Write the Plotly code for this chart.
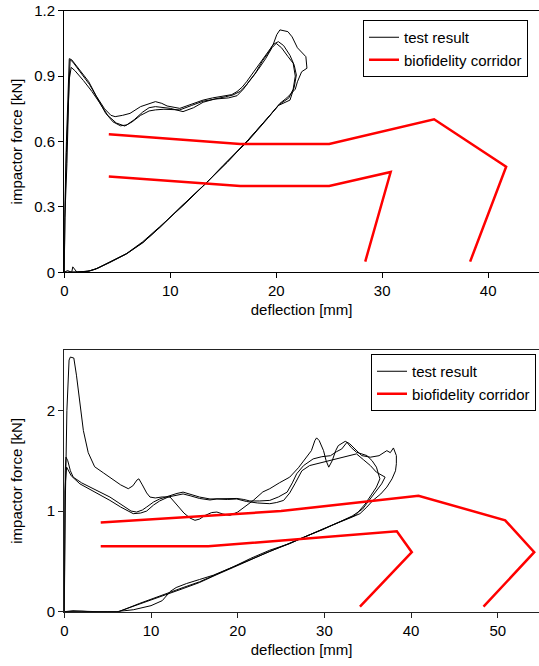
import plotly.graph_objects as go

# ---------------- top panel data ----------------
top_t1_x = [0, 0.05, 0.2, 0.35, 0.47, 0.7, 1.5, 2.3, 3.0, 3.8, 4.4, 4.8, 5.5, 6.2, 7.2, 8.0, 8.6, 9.2, 9.7, 10.9, 12.0, 13.1, 14.0, 15.0, 15.8, 16.3, 16.8, 17.2, 17.9, 18.5, 19.1, 19.7, 20.05, 20.35, 21.1, 21.5, 22.0, 22.4, 22.8, 22.9, 22.4, 22.0, 21.8, 21.0, 20.35, 19.4, 17.5, 15.4, 13.4, 11.2, 9.0, 7.4, 5.9, 4.3, 3.2, 2.4, 1.5, 1.2, 0.8, 0.7, 0.3, 0]
top_t1_y = [0, 0.3, 0.6, 0.88, 0.98, 0.975, 0.925, 0.875, 0.81, 0.75, 0.72, 0.714, 0.72, 0.729, 0.76, 0.775, 0.783, 0.775, 0.763, 0.752, 0.77, 0.79, 0.80, 0.809, 0.815, 0.829, 0.85, 0.874, 0.92, 0.959, 1.0, 1.043, 1.09, 1.112, 1.104, 1.08, 1.03, 1.01, 0.989, 0.936, 0.92, 0.874, 0.84, 0.80, 0.775, 0.72, 0.615, 0.505, 0.408, 0.305, 0.209, 0.14, 0.087, 0.049, 0.02, 0.007, 0.002, 0.0, 0.025, 0.0, 0.008, 0]

top_t2_x = [0, 0.05, 0.2, 0.4, 0.55, 0.8, 1.6, 2.4, 3.1, 3.9, 4.6, 5.3, 5.9, 6.6, 7.4, 8.0, 8.6, 9.3, 10.0, 11.2, 12.2, 13.1, 14.2, 15.2, 15.9, 16.6, 17.2, 18.0, 18.7, 19.3, 19.7, 20.2, 20.7, 21.3, 21.7, 21.9, 21.7, 21.3, 20.2, 19.0, 17.3, 15.0, 13.3, 11.0, 9.0, 7.5, 5.9, 4.3, 3.0, 2.3, 1.0, 0]
top_t2_y = [0, 0.25, 0.55, 0.85, 0.975, 0.965, 0.915, 0.86, 0.80, 0.73, 0.69, 0.672, 0.676, 0.70, 0.735, 0.755, 0.76, 0.756, 0.752, 0.737, 0.755, 0.78, 0.795, 0.805, 0.813, 0.83, 0.86, 0.91, 0.97, 1.01, 1.045, 1.058, 1.04, 0.995, 0.95, 0.905, 0.85, 0.79, 0.765, 0.695, 0.60, 0.49, 0.405, 0.30, 0.205, 0.14, 0.085, 0.045, 0.015, 0.005, 0.0, 0]

top_t3_x = [0, 0.05, 0.25, 0.45, 0.65, 1.0, 1.8, 2.6, 3.3, 4.1, 4.9, 5.7, 6.4, 7.2, 8.0, 8.6, 9.4, 10.2, 10.9, 12.0, 13.1, 14.3, 15.5, 16.3, 16.9, 17.5, 18.3, 19.0, 19.6, 20.0, 20.5, 21.1, 21.6, 21.8, 21.6, 21.2, 20.3, 19.4, 17.4, 15.1, 13.4, 11.1, 9.1, 7.4, 5.8, 4.3, 2.9, 2.2, 1.0, 0]
top_t3_y = [0, 0.25, 0.5, 0.88, 0.94, 0.925, 0.88, 0.83, 0.78, 0.72, 0.685, 0.671, 0.69, 0.72, 0.74, 0.745, 0.748, 0.746, 0.745, 0.765, 0.785, 0.795, 0.80, 0.81, 0.84, 0.88, 0.93, 0.98, 1.03, 1.05, 1.03, 0.99, 0.959, 0.90, 0.84, 0.80, 0.77, 0.72, 0.61, 0.495, 0.41, 0.305, 0.21, 0.135, 0.083, 0.047, 0.014, 0.004, 0.0, 0]

top_cor_up_x = [4.2, 16.6, 25.0, 34.9, 41.7, 38.3]
top_cor_up_y = [0.633, 0.589, 0.589, 0.702, 0.484, 0.049]
top_cor_lo_x = [4.2, 16.6, 25.0, 30.8, 28.4]
top_cor_lo_y = [0.440, 0.396, 0.396, 0.460, 0.049]

top_xticks = [0, 10, 20, 30, 40]
top_yticks = [0, 0.3, 0.6, 0.9, 1.2]
top_yticklabels = ["0", "0.3", "0.6", "0.9", "1.2"]

# ---------------- bottom panel data ----------------
bot_t1_x = [0, 0.1, 0.3, 0.55, 0.7, 1.1, 1.4, 1.8, 2.2, 2.76, 3.5, 4.5, 5.5, 6.5, 7.38, 7.9, 8.4, 8.6, 9.0, 9.5, 9.88, 10.5, 11.3, 12.2, 13.0, 13.8, 14.5, 15.07, 15.6, 16.2, 17.0, 17.6, 18.3, 19.1, 20.0, 20.9, 21.8, 22.9, 23.7, 24.8, 26.0, 27.0, 27.6, 28.5, 28.9, 29.1, 29.4, 29.9, 30.2, 30.5, 30.9, 31.3, 31.6, 32.4, 32.9, 33.3, 34.3, 35.3, 36.3, 37.2, 37.6, 37.96, 38.3, 38.3, 38.2, 37.8, 37.2, 36.5, 35.6, 34.9, 34.1, 33.2, 32.2, 30.9, 29.5, 27.8, 26.0, 23.7, 21.5, 19.5, 17.5, 15.6, 13.7, 11.8, 10.2, 8.7, 7.6, 6.8, 6.3, 5.0, 3.0, 1.0, 0]
bot_t1_y = [0, 1.0, 2.0, 2.5, 2.53, 2.52, 2.35, 2.06, 1.8, 1.58, 1.44, 1.38, 1.32, 1.26, 1.222, 1.25, 1.31, 1.32, 1.26, 1.18, 1.139, 1.13, 1.14, 1.139, 1.06, 0.98, 0.93, 0.908, 0.92, 0.955, 0.985, 0.99, 0.97, 0.957, 0.99, 1.05, 1.106, 1.19, 1.222, 1.28, 1.337, 1.43, 1.50, 1.60, 1.70, 1.727, 1.70, 1.60, 1.50, 1.436, 1.50, 1.60, 1.65, 1.693, 1.67, 1.634, 1.551, 1.535, 1.55, 1.60, 1.58, 1.627, 1.551, 1.47, 1.40, 1.32, 1.238, 1.17, 1.106, 1.04, 0.974, 0.94, 0.908, 0.86, 0.809, 0.745, 0.677, 0.611, 0.53, 0.446, 0.37, 0.297, 0.24, 0.182, 0.13, 0.083, 0.045, 0.017, 0.0, 0.0, 0.0, 0.01, 0]

bot_t2_x = [0, 0.05, 0.1, 0.2, 0.4, 0.7, 1.03, 2.0, 2.95, 4.0, 5.26, 6.3, 7.19, 7.7, 8.34, 9.0, 9.5, 10.3, 11.0, 12.2, 13.0, 13.7, 14.5, 15.6, 16.8, 18.0, 19.0, 19.9, 20.7, 21.4, 22.5, 23.7, 24.7, 25.7, 26.3, 26.8, 27.6, 28.7, 29.7, 30.7, 31.4, 32.0, 32.6, 33.1, 33.7, 34.9, 35.5, 36.0, 36.4, 36.0, 35.4, 34.7, 33.6, 32.3, 30.7, 29.0, 27.5, 25.8, 23.7, 21.5, 19.5, 17.5, 15.6, 13.7, 11.8, 10.2, 8.7, 7.6, 6.8, 6.2, 4.0, 2.0, 0]
bot_t2_y = [0, 1.0, 1.4, 1.535, 1.5, 1.40, 1.337, 1.28, 1.238, 1.19, 1.139, 1.08, 1.024, 1.0, 0.99, 1.01, 1.04, 1.09, 1.12, 1.155, 1.175, 1.188, 1.17, 1.139, 1.12, 1.12, 1.12, 1.125, 1.115, 1.10, 1.10, 1.106, 1.14, 1.188, 1.28, 1.37, 1.452, 1.518, 1.54, 1.55, 1.59, 1.617, 1.683, 1.63, 1.584, 1.551, 1.50, 1.436, 1.32, 1.238, 1.16, 1.07, 0.96, 0.91, 0.85, 0.79, 0.735, 0.67, 0.60, 0.52, 0.44, 0.365, 0.29, 0.23, 0.17, 0.12, 0.075, 0.04, 0.012, 0.0, 0.0, 0.005, 0]

bot_t3_x = [0, 0.05, 0.27, 0.8, 1.8, 3.5, 5.26, 6.5, 7.95, 8.8, 9.5, 10.3, 11.0, 12.0, 13.0, 13.7, 14.6, 15.6, 16.8, 17.6, 18.8, 19.9, 21.0, 22.3, 23.7, 24.5, 25.3, 26.0, 26.6, 27.4, 28.3, 29.9, 31.4, 32.6, 33.7, 34.5, 35.3, 36.0, 36.8, 37.0, 36.6, 36.0, 35.3, 34.4, 33.2, 31.5, 29.8, 27.9, 26.0, 23.7, 21.5, 19.9, 17.2, 15.6, 14.1, 12.9, 12.2, 11.3, 10.0, 8.0, 6.0, 4.0, 0]
bot_t3_y = [0, 1.2, 1.436, 1.35, 1.27, 1.19, 1.106, 1.04, 0.974, 0.98, 1.0, 1.06, 1.10, 1.14, 1.16, 1.17, 1.15, 1.125, 1.11, 1.12, 1.115, 1.12, 1.095, 1.08, 1.073, 1.085, 1.106, 1.18, 1.271, 1.40, 1.452, 1.485, 1.518, 1.545, 1.568, 1.51, 1.452, 1.386, 1.353, 1.337, 1.27, 1.205, 1.12, 1.02, 0.95, 0.88, 0.815, 0.75, 0.68, 0.60, 0.52, 0.462, 0.363, 0.32, 0.28, 0.24, 0.2, 0.11, 0.06, 0.02, 0.0, 0.0, 0]

bot_cor_up_x = [4.2, 25.0, 40.85, 50.85, 54.2, 48.35]
bot_cor_up_y = [0.885, 1.0, 1.152, 0.908, 0.591, 0.05]
bot_cor_lo_x = [4.2, 16.6, 38.35, 40.08, 34.1]
bot_cor_lo_y = [0.65, 0.65, 0.799, 0.591, 0.05]

bot_xticks = [0, 10, 20, 30, 40, 50]
bot_yticks = [0, 1, 2]
bot_yticklabels = ["0", "1", "2"]

x_title = "deflection [mm]"
y_title = "impactor force [kN]"
name_test = "test result"
name_corr = "biofidelity corridor"

FONT = "Arial, Liberation Sans, sans-serif"
FS = 15
W, H = 539, 666

fig = go.Figure()

def add_panel(tests, cors, xa, ya, legend):
    for i, (tx, ty) in enumerate(tests):
        fig.add_trace(go.Scatter(x=tx, y=ty, mode="lines", xaxis=xa, yaxis=ya,
                                 line=dict(color="black", width=1),
                                 name=name_test, legend=legend,
                                 legendgroup=legend + "t", showlegend=(i == 0)))
    for i, (cx, cy) in enumerate(cors):
        fig.add_trace(go.Scatter(x=cx, y=cy, mode="lines", xaxis=xa, yaxis=ya,
                                 line=dict(color="#ff0000", width=2.5),
                                 name=name_corr, legend=legend,
                                 legendgroup=legend + "c", showlegend=(i == 0)))

add_panel([(top_t1_x, top_t1_y), (top_t2_x, top_t2_y), (top_t3_x, top_t3_y)],
          [(top_cor_up_x, top_cor_up_y), (top_cor_lo_x, top_cor_lo_y)],
          "x", "y", "legend")
add_panel([(bot_t1_x, bot_t1_y), (bot_t2_x, bot_t2_y), (bot_t3_x, bot_t3_y)],
          [(bot_cor_up_x, bot_cor_up_y), (bot_cor_lo_x, bot_cor_lo_y)],
          "x2", "y2", "legend2")

xdom = [64.3 / W, 1.0]
top_ydom = [1 - 272.3 / H, 1 - 10.7 / H]
bot_ydom = [1 - 611.7 / H, 1 - 350 / H]

def axis_common(col="black"):
    return dict(showgrid=False, zeroline=False, ticks="outside", ticklen=5,
                tickwidth=1, tickcolor=col, showline=True, linecolor=col,
                linewidth=1.3, automargin=False,
                tickfont=dict(family=FONT, size=FS, color="black"))

legend_common = dict(bgcolor="white", bordercolor="black", borderwidth=1,
                     font=dict(family=FONT, size=FS, color="black"),
                     itemwidth=30, xanchor="right", yanchor="top",
                     tracegroupgap=0)

tfont = dict(family=FONT, size=FS, color="black")

fig.update_layout(
    width=W, height=H,
    margin=dict(l=0, r=0, t=0, b=0),
    paper_bgcolor="white", plot_bgcolor="white",
    font=dict(family=FONT, size=FS, color="black"),
    xaxis=dict(domain=xdom, anchor="y", range=[0, 44.8], tickvals=top_xticks,
               mirror=True, title=dict(text=x_title, standoff=6, font=tfont),
               **axis_common()),
    yaxis=dict(domain=top_ydom, anchor="x", range=[0, 1.2], tickvals=top_yticks,
               ticktext=top_yticklabels,
               title=dict(text=y_title, standoff=8, font=tfont),
               **axis_common()),
    xaxis2=dict(domain=xdom, anchor="y2", range=[0, 54.75], tickvals=bot_xticks,
                mirror=True, title=dict(text=x_title, standoff=6, font=tfont),
                **axis_common("#222222")),
    yaxis2=dict(domain=bot_ydom, anchor="x2", range=[0, 2.6], tickvals=bot_yticks,
                ticktext=bot_yticklabels,
                title=dict(text=y_title, standoff=20, font=tfont),
                **axis_common("#222222")),
    legend=dict(x=528 / W, y=1 - 20 / H, **legend_common),
    legend2=dict(x=536 / W, y=1 - 354 / H, **legend_common),
    showlegend=True,
)

fig.write_html("out.html")
